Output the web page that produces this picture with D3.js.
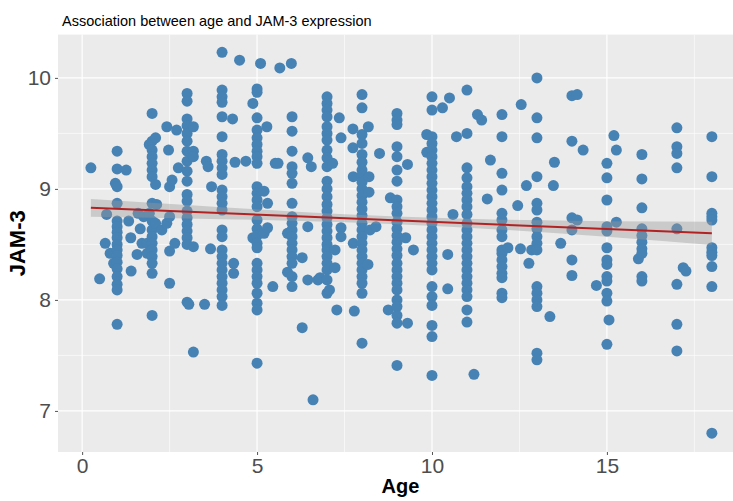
<!DOCTYPE html>
<html>
<head>
<meta charset="utf-8">
<script src="https://cdn.jsdelivr.net/npm/d3@7"></script>
<style>
  body { margin: 0; background: #fff; }
  svg { display: block; font-family: "Liberation Sans", Arial, sans-serif; }
</style>
</head>
<body>
<svg id="chart" width="733" height="501"></svg>
<script>
// ages (one entry per column of points) and JAM-3 values at that age
var ages = [0.25, 0.5, 0.66, 0.7, 0.8, 0.9, 0.95, 1.0, 1.26, 1.33, 1.39, 1.4, 1.57, 1.6, 1.66, 1.71, 1.76, 1.86,
    1.92, 2.0, 2.1, 2.13, 2.28, 2.42, 2.47, 2.5, 2.57, 2.65, 2.7, 2.75, 3.0, 3.05, 3.18, 3.5, 3.55, 3.6, 3.67, 3.7,
    4.0, 4.3, 4.33, 4.37, 4.5, 4.68, 4.88, 5.0, 5.1, 5.2, 5.28, 5.3, 5.45, 5.52, 5.6, 5.65, 5.87, 5.98,
    6.0, 6.29, 6.45, 6.55, 6.6, 6.74, 6.8, 7.0, 7.07, 7.16, 7.23, 7.28, 7.35, 7.4, 7.74, 7.75, 7.78,
    8.0, 8.17, 8.18, 8.2, 8.23, 8.4, 8.5, 8.75, 8.81, 9.0, 9.25, 9.3, 9.47, 9.85, 10.0, 10.3, 10.45, 10.5, 10.6, 10.7,
    11.0, 11.2, 11.3, 11.42, 11.58, 11.67, 12.0, 12.17, 12.45, 12.53, 12.55, 12.7, 12.77, 12.85,
    13.0, 13.37, 13.47, 13.5, 13.68, 14.0, 14.15, 14.32, 14.7, 15.0, 15.06, 15.2, 15.27, 15.9, 16.0,
    17.0, 17.18, 17.26, 18.0];

var jamByAge = [
    [9.19], [8.19], [8.51], [8.77], [8.42], [8.33], [9.05],
    [9.34, 9.18, 9.02, 8.87, 8.71, 8.66, 8.61, 8.56, 8.50, 8.45, 8.40, 8.34, 8.28, 8.21, 8.14, 8.09, 7.78],
    [9.17], [8.71], [8.56], [8.26], [8.41], [8.78], [8.64], [8.51], [8.75], [8.51, 8.42],
    [9.40, 8.78],
    [9.68, 9.43, 9.35, 9.29, 9.23, 9.17, 9.11, 8.87, 8.71, 8.63, 8.57, 8.51, 8.45, 8.39, 8.33, 8.24, 7.86],
    [9.46, 9.04, 8.69], [8.86], [8.63], [9.56, 8.69], [9.35], [9.02, 8.75, 8.44, 8.15], [9.08], [8.51], [9.53], [9.19],
    [9.86, 9.79, 9.63, 9.57, 9.50, 9.43, 9.34, 9.25, 9.16, 9.07, 8.95, 8.89, 8.80, 8.74, 8.68, 8.62, 8.56, 8.50, 7.98],
    [7.96], [9.56, 9.34, 9.29, 8.48, 7.53], [7.96], [9.25], [9.20], [8.46], [9.02],
    [10.23, 9.89, 9.83, 9.78, 9.65, 9.47, 9.31, 9.25, 9.19, 9.13, 8.99, 8.93, 8.87, 8.81, 8.63, 8.57, 8.45, 8.39, 8.33, 8.27, 8.21, 8.15, 8.09, 8.03, 7.95],
    [9.63], [8.33, 8.24], [9.24], [10.16], [9.25], [9.77, 8.56],
    [9.90, 9.87, 9.64, 9.53, 9.46, 9.40, 9.34, 9.29, 9.23, 9.02, 8.96, 8.90, 8.84, 8.72, 8.64, 8.58, 8.51, 8.47, 8.33, 8.27, 8.21, 8.15, 8.06, 7.97, 7.91, 7.43],
    [10.13], [8.98, 8.60], [9.56], [8.87, 8.65], [8.12], [9.23], [9.23], [10.09], [8.60, 8.25], [10.13],
    [9.65, 9.52, 9.34, 9.20, 9.14, 9.05, 8.87, 8.75, 8.69, 8.63, 8.57, 8.51, 8.45, 8.39, 8.33, 8.21, 8.12],
    [8.38, 7.75], [9.28, 8.66, 8.18], [9.20], [7.10], [8.18], [8.20],
    [9.83, 9.77, 9.71, 9.65, 9.56, 9.50, 9.44, 9.35, 9.28, 9.20, 9.07, 9.00, 8.93, 8.86, 8.80, 8.74, 8.68, 8.62, 8.56, 8.50, 8.45, 8.39, 8.33, 8.27, 8.18, 8.06],
    [8.09], [9.23], [8.45, 8.29], [7.91], [9.64], [9.46, 8.65, 8.57], [9.54, 9.37], [9.11, 8.51], [7.90],
    [9.85, 9.73, 9.49, 9.41, 9.31, 9.24, 9.17, 9.12, 9.06, 9.00, 8.94, 8.88, 8.82, 8.76, 8.69, 8.63, 8.57, 8.51, 8.45, 8.39, 8.33, 8.27, 8.21, 8.15, 8.06, 7.61],
    [8.32], [9.56], [9.11, 8.97], [8.63], [8.66], [9.32], [7.91], [8.92],
    [9.68, 9.62, 9.58, 9.38, 9.29, 9.17, 9.07, 8.90, 8.84, 8.78, 8.70, 8.64, 8.58, 8.52, 8.46, 8.40, 8.33, 8.27, 8.21, 8.15, 8.09, 8.00, 7.94, 7.86, 7.79, 7.41],
    [8.56], [9.22, 7.79], [8.45], [9.49, 9.33],
    [9.83, 9.71, 9.47, 9.41, 9.35, 9.29, 9.23, 9.17, 9.11, 9.05, 8.99, 8.93, 8.87, 8.81, 8.75, 8.69, 8.63, 8.57, 8.51, 8.45, 8.39, 8.33, 8.27, 8.12, 8.03, 7.95, 7.77, 7.67, 7.32],
    [9.73], [8.41, 8.10], [9.82], [8.77], [9.47],
    [9.89, 9.50, 9.19, 9.10, 9.02, 8.96, 8.90, 8.84, 8.77, 8.69, 8.63, 8.57, 8.51, 8.45, 8.39, 8.33, 8.27, 8.21, 8.15, 8.09, 8.03, 7.91, 7.80],
    [7.33], [9.67], [9.62], [8.91], [9.26],
    [9.67, 9.47, 9.14, 8.99, 8.78, 8.72, 8.63, 8.57, 8.45, 8.42, 8.36, 8.30, 8.24, 8.20, 8.06, 8.02],
    [8.47], [8.85], [8.46], [9.76], [9.03], [8.33], [8.45],
    [10.00, 9.64, 9.46, 9.11, 8.87, 8.81, 8.70, 8.64, 8.57, 8.51, 8.45, 8.12, 8.06, 8.00, 7.94, 7.52, 7.46],
    [7.85], [9.03], [9.24], [8.51],
    [9.84, 9.43, 8.74, 8.63, 8.36, 8.22], [9.85, 8.72], [9.35], [8.13],
    [9.23, 9.10, 8.90, 8.66, 8.62, 8.47, 8.36, 8.32, 8.21, 8.17, 8.06, 7.99, 7.60],
    [7.82], [9.48], [9.35, 8.70], [8.37],
    [9.31, 9.09, 8.83, 8.64, 8.58, 8.52, 8.46, 8.42, 8.21, 8.17],
    [9.55, 9.38, 9.32, 9.19, 8.64, 8.14, 7.78, 7.54], [8.29], [8.26],
    [9.47, 9.11, 8.78, 8.75, 8.72, 8.47, 8.43, 8.40, 8.30, 8.12, 6.80]
];

// linear fit (geom_smooth, method = lm) and its 95% band
var fitAge = [0.25, 18];
var fitValue = [8.83, 8.60];
var bandAge = [0.25, 3, 6, 9, 12, 15, 18];
var bandHalf = [0.08, 0.06, 0.042, 0.035, 0.045, 0.07, 0.105];

var xTicks = [0, 5, 10, 15];
var xMinor = [2.5, 7.5, 12.5, 17.5];
var yTicks = [7, 8, 9, 10];
var yMinor = [7.5, 8.5, 9.5];

var svg = d3.select("#chart"),
    width = +svg.attr("width"),
    height = +svg.attr("height");

var x = d3.scaleLinear().domain([-0.69, 18.89]).range([58, 743]);
var y = d3.scaleLinear().domain([6.63, 10.39]).range([452, 34.6]);

var pLeft = x.range()[0], pRight = x.range()[1],
    pTop = y.range()[1], pBottom = y.range()[0];

// panel
svg.append("rect")
    .attr("x", pLeft).attr("y", pTop)
    .attr("width", pRight - pLeft).attr("height", pBottom - pTop)
    .attr("fill", "#ebebeb");

var grid = svg.append("g");
grid.selectAll(".xminor").data(xMinor).enter().append("line")
    .attr("x1", d => x(d)).attr("x2", d => x(d)).attr("y1", pTop).attr("y2", pBottom)
    .attr("stroke", "#fff").attr("stroke-width", 0.6);
grid.selectAll(".yminor").data(yMinor).enter().append("line")
    .attr("x1", pLeft).attr("x2", pRight).attr("y1", d => y(d)).attr("y2", d => y(d))
    .attr("stroke", "#fff").attr("stroke-width", 0.6);
grid.selectAll(".xmajor").data(xTicks).enter().append("line")
    .attr("x1", d => x(d)).attr("x2", d => x(d)).attr("y1", pTop).attr("y2", pBottom)
    .attr("stroke", "#fff").attr("stroke-width", 1.2);
grid.selectAll(".ymajor").data(yTicks).enter().append("line")
    .attr("x1", pLeft).attr("x2", pRight).attr("y1", d => y(d)).attr("y2", d => y(d))
    .attr("stroke", "#fff").attr("stroke-width", 1.2);

// points
var points = d3.merge(ages.map(function(a, i) {
    return jamByAge[i].map(function(v) { return {age: a, jam: v}; });
}));

svg.append("g").selectAll("circle")
    .data(points)
    .enter().append("circle")
    .attr("cx", d => x(d.age))
    .attr("cy", d => y(d.jam))
    .attr("r", 5.5)
    .attr("fill", "#4682b4");

// fit line + band
var slope = (fitValue[1] - fitValue[0]) / (fitAge[1] - fitAge[0]);
function fit(a) { return fitValue[0] + (a - fitAge[0]) * slope; }

var band = bandAge.map((a, i) => ({age: a, lo: fit(a) - bandHalf[i], hi: fit(a) + bandHalf[i]}));

svg.append("path")
    .datum(band)
    .attr("fill", "#999999")
    .attr("fill-opacity", 0.4)
    .attr("d", d3.area()
        .x(d => x(d.age))
        .y0(d => y(d.lo))
        .y1(d => y(d.hi))
        .curve(d3.curveMonotoneX));

svg.append("path")
    .datum(fitAge)
    .attr("fill", "none")
    .attr("stroke", "#b22222")
    .attr("stroke-width", 2)
    .attr("d", d3.line().x(d => x(d)).y(d => y(fit(d))));

// axes
var xAxis = svg.append("g")
    .attr("transform", "translate(0," + pBottom + ")")
    .call(d3.axisBottom(x).tickValues(xTicks).tickFormat(d3.format("d")).tickSize(3).tickPadding(3));
var yAxis = svg.append("g")
    .attr("transform", "translate(" + pLeft + ",0)")
    .call(d3.axisLeft(y).tickValues(yTicks).tickFormat(d3.format("d")).tickSize(3).tickPadding(4));

[xAxis, yAxis].forEach(function(a) {
    a.select(".domain").remove();
    a.selectAll(".tick line").attr("stroke", "#555");
    a.selectAll(".tick text")
        .attr("fill", "#4d4d4d")
        .style("font-family", "'Liberation Sans Narrow', 'Liberation Sans', Arial, sans-serif")
        .style("font-size", "21px");
});

// titles
svg.append("text")
    .attr("x", 62).attr("y", 26)
    .style("font-size", "14.5px")
    .attr("fill", "#000")
    .text("Association between age and JAM-3 expression");

svg.append("text")
    .attr("x", (pLeft + pRight) / 2).attr("y", 493)
    .attr("text-anchor", "middle")
    .style("font-size", "20px").style("font-weight", "bold")
    .text("Age");

svg.append("text")
    .attr("transform", "translate(25," + (pTop + pBottom) / 2 + ") rotate(-90)")
    .attr("text-anchor", "middle")
    .style("font-size", "22px").style("font-weight", "bold")
    .text("JAM-3");
</script>
</body>
</html>
